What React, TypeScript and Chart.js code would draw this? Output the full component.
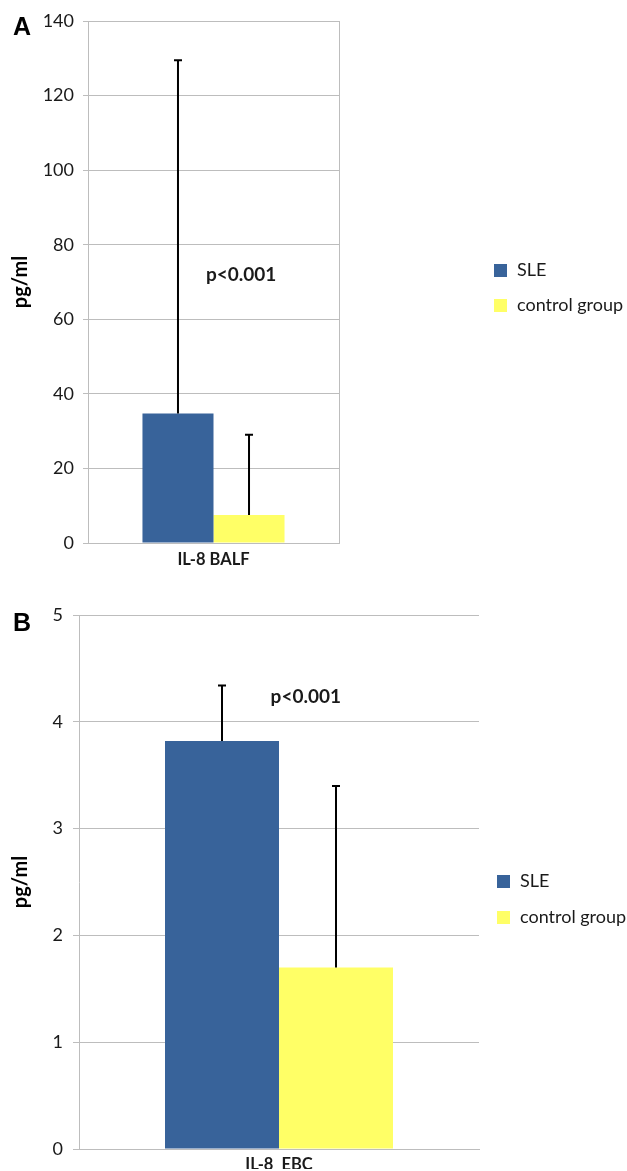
import React, { useEffect, useRef } from "react";
import { Chart, registerables } from "chart.js";

Chart.register(...registerables);

// ---------- data ----------
const seriesNames = ["SLE", "control group"];
const seriesColors = ["#38639a", "#ffff66"];

const categoriesA = ["IL-8 BALF"];
const sleMeanA = [34.7];
const controlMeanA = [7.5];
const sleUpperA = [129.5];
const controlUpperA = [29];
const yTicksA = [0, 20, 40, 60, 80, 100, 120, 140];
const pValueTextA = "p<0.001";
const pValueYA = 72;

const categoriesB = ["IL-8  EBC"];
const sleMeanB = [3.82];
const controlMeanB = [1.7];
const sleUpperB = [4.34];
const controlUpperB = [3.4];
const yTicksB = [0, 1, 2, 3, 4, 5];
const pValueTextB = "p<0.001";
const pValueYB = 4.23;

const yTitle = "pg/ml";

// ---------- styles ----------
const gridColor = "#bdbdbd";
const textColor = "#1a1a1a";
const tickFont = { family: "Lato", size: 18 };
const boldFont = { family: "Lato", size: 16.5, weight: "bold" as const };

const errorBarPlugin = {
  id: "errorBars",
  afterDatasetsDraw(chart: any, _args: any, opts: any) {
    const ctx = chart.ctx;
    const y = chart.scales.y;
    const uppers: number[][] = opts.uppers || [];
    chart.data.datasets.forEach((_ds: any, di: number) => {
      const meta = chart.getDatasetMeta(di);
      meta.data.forEach((bar: any, i: number) => {
        const up = uppers[di] && uppers[di][i];
        if (up == null) return;
        const top = y.getPixelForValue(up);
        ctx.save();
        ctx.strokeStyle = "#000";
        ctx.lineWidth = 2;
        ctx.beginPath();
        ctx.moveTo(bar.x, bar.y);
        ctx.lineTo(bar.x, top);
        ctx.moveTo(bar.x - 4, top);
        ctx.lineTo(bar.x + 4, top);
        ctx.stroke();
        ctx.restore();
      });
    });
  },
};

const decorPlugin = {
  id: "decor",
  afterDraw(chart: any, _args: any, opts: any) {
    const ctx = chart.ctx;
    const { y } = chart.scales;
    const area = chart.chartArea;
    ctx.save();
    // panel letter
    ctx.fillStyle = "#000";
    ctx.font = "bold 25px 'Liberation Sans', Arial, sans-serif";
    ctx.textAlign = "left";
    ctx.textBaseline = "alphabetic";
    ctx.fillText(opts.letter, opts.letterX, opts.letterY);
    // p-value
    ctx.fillStyle = textColor;
    ctx.font = "bold 19px Lato";
    ctx.textAlign = "center";
    ctx.textBaseline = "middle";
    const px = area.left + opts.pFrac * (area.right - area.left);
    ctx.fillText(opts.pText, px, y.getPixelForValue(opts.pY));
    // legend
    ctx.font = "18px Lato";
    ctx.textAlign = "left";
    chart.data.datasets.forEach((ds: any, i: number) => {
      const cy = opts.legendY + i * opts.legendGap;
      ctx.fillStyle = ds.backgroundColor;
      ctx.fillRect(opts.legendX, cy - 6, 13, 13);
      ctx.fillStyle = textColor;
      ctx.fillText(ds.label, opts.legendX + 23, cy);
    });
    ctx.restore();
  },
};

type PanelProps = {
  width: number;
  height: number;
  top: number;
  categories: string[];
  sle: number[];
  control: number[];
  sleUpper: number[];
  controlUpper: number[];
  yTicks: number[];
  padding: { left: number; top: number; right: number; bottom: number };
  yWidth: number;
  xHeight: number;
  xPad: number;
  tickLength: number;
  tickPad: number;
  barFrac: number;
  rightBorder: boolean;
  letter: string;
  letterX: number;
  letterY: number;
  pText: string;
  pY: number;
  pFrac: number;
  legendX: number;
  legendY: number;
  legendGap: number;
};

function Panel(p: PanelProps) {
  const ref = useRef<HTMLCanvasElement | null>(null);
  useEffect(() => {
    if (!ref.current) return;
    const step = p.yTicks[1] - p.yTicks[0];
    const chart = new Chart(ref.current, {
      type: "bar",
      data: {
        labels: p.categories,
        datasets: [
          { label: seriesNames[0], data: p.sle, backgroundColor: seriesColors[0], borderWidth: 0 },
          { label: seriesNames[1], data: p.control, backgroundColor: seriesColors[1], borderWidth: 0 },
        ],
      },
      options: {
        responsive: false,
        animation: false,
        devicePixelRatio: 1,
        layout: { padding: p.padding },
        datasets: { bar: { categoryPercentage: p.barFrac, barPercentage: 1 } },
        plugins: {
          legend: { display: false },
          tooltip: { enabled: false },
          errorBars: { uppers: [p.sleUpper, p.controlUpper] },
          decor: {
            letter: p.letter,
            letterX: p.letterX,
            letterY: p.letterY,
            pText: p.pText,
            pY: p.pY,
            pFrac: p.pFrac,
            legendX: p.legendX,
            legendY: p.legendY,
            legendGap: p.legendGap,
          },
        } as any,
        scales: {
          x: {
            grid: { display: p.rightBorder, drawTicks: false, color: gridColor, offset: true },
            border: { color: gridColor, width: 1 },
            ticks: { padding: p.xPad, font: boldFont, color: textColor },
            afterFit: (s: any) => {
              s.height = p.xHeight;
            },
          },
          y: {
            min: p.yTicks[0],
            max: p.yTicks[p.yTicks.length - 1],
            ticks: { stepSize: step, padding: p.tickPad, font: tickFont, color: textColor },
            grid: { color: gridColor, tickLength: p.tickLength, drawTicks: true },
            border: { color: gridColor, width: 1 },
            title: {
              display: true,
              text: yTitle,
              font: { family: "Lato", size: 20, weight: "bold" },
              color: "#000",
              padding: { top: 0, bottom: 0 },
            },
            afterFit: (s: any) => {
              s.width = p.yWidth;
            },
          },
        } as any,
      },
      plugins: [errorBarPlugin, decorPlugin],
    });
    return () => chart.destroy();
  }, []);
  return (
    <canvas
      ref={ref}
      width={p.width}
      height={p.height}
      style={{ position: "absolute", left: 0, top: p.top, width: p.width, height: p.height }}
    />
  );
}

export default function App() {
  return (
    <div style={{ position: "absolute", left: 0, top: 0, width: 627, height: 1171, background: "#fff", overflow: "hidden" }}>
      <Panel
        width={627}
        height={585}
        top={0}
        categories={categoriesA}
        sle={sleMeanA}
        control={controlMeanA}
        sleUpper={sleUpperA}
        controlUpper={controlUpperA}
        yTicks={yTicksA}
        padding={{ left: 9, top: 21, right: 288, bottom: 12 }}
        yWidth={79}
        xHeight={30}
        xPad={7}
        tickLength={5}
        tickPad={9}
        barFrac={0.566}
        rightBorder={true}
        letter="A"
        letterX={13}
        letterY={35}
        pText={pValueTextA}
        pY={pValueYA}
        pFrac={0.61}
        legendX={494}
        legendY={270}
        legendGap={35}
      />
      <Panel
        width={627}
        height={586}
        top={585}
        categories={categoriesB}
        sle={sleMeanB}
        control={controlMeanB}
        sleUpper={sleUpperB}
        controlUpper={controlUpperB}
        yTicks={yTicksB}
        padding={{ left: 9, top: 30, right: 148, bottom: 2 }}
        yWidth={70}
        xHeight={20}
        xPad={6}
        tickLength={6}
        tickPad={10}
        barFrac={0.57}
        rightBorder={false}
        letter="B"
        letterX={13}
        letterY={46}
        pText={pValueTextB}
        pY={pValueYB}
        pFrac={0.567}
        legendX={497}
        legendY={296}
        legendGap={36}
      />
    </div>
  );
}
